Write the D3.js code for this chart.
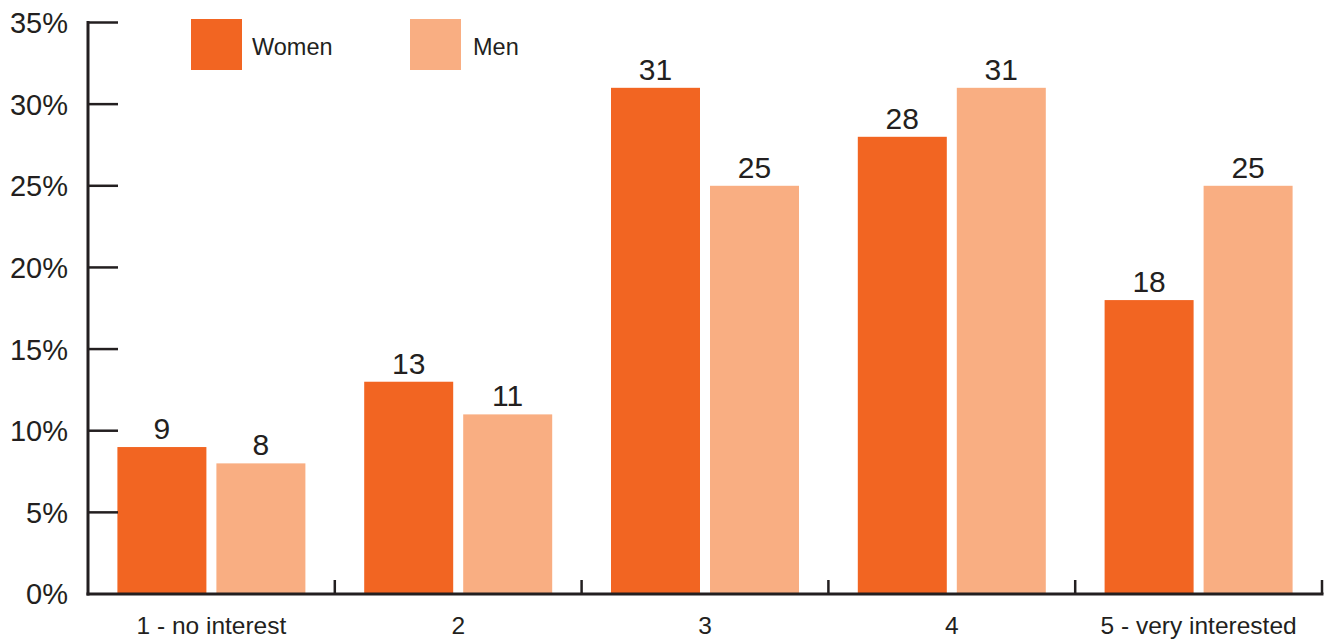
<!DOCTYPE html>
<html>
<head>
<meta charset="utf-8">
<script src="https://cdn.jsdelivr.net/npm/d3@7"></script>
<style>
  html, body { margin: 0; padding: 0; background: #fff; }
  svg { display: block; }
  text { font-family: "Liberation Sans", Arial, sans-serif; fill: #231f20; }
</style>
</head>
<body>
<svg id="chart" width="1330" height="641"></svg>
<script>
// Level of interest, share of respondents (%) by gender
const categories = ["1 - no interest", "2", "3", "4", "5 - very interested"];
const seriesNames = ["Women", "Men"];
const women = [9, 13, 31, 28, 18];
const men = [8, 11, 25, 31, 25];
const yTicks = [0, 5, 10, 15, 20, 25, 30, 35];

const colors = { Women: "#f26522", Men: "#f9ae82" };
const ink = "#231f20";

const svg = d3.select("#chart");
const plotLeft = 88, plotRight = 1322, plotTop = 22.5, plotBottom = 594;

const x = d3.scaleBand().domain(categories).range([plotLeft, plotRight]).paddingInner(0).paddingOuter(0);
const x1 = d3.scaleBand().domain(seriesNames).range([0, x.bandwidth()]).paddingInner(0.101).paddingOuter(0.297);
const y = d3.scaleLinear().domain([0, 35]).range([plotBottom, plotTop]);

const rows = categories.map((c, i) => ({ cat: c, Women: women[i], Men: men[i] }));

// Bars
const groups = svg.append("g").selectAll("g").data(rows).join("g")
  .attr("transform", d => `translate(${x(d.cat)},0)`);

groups.selectAll("rect").data(d => seriesNames.map(s => ({ s, v: d[s] }))).join("rect")
  .attr("x", d => x1(d.s))
  .attr("y", d => y(d.v))
  .attr("width", x1.bandwidth())
  .attr("height", d => y(0) - y(d.v))
  .attr("fill", d => colors[d.s]);

// Value labels
groups.selectAll("text.val").data(d => seriesNames.map(s => ({ s, v: d[s] }))).join("text")
  .attr("class", "val")
  .attr("x", d => x1(d.s) + x1.bandwidth() / 2)
  .attr("y", d => y(d.v) - 8)
  .attr("text-anchor", "middle")
  .attr("font-size", 30)
  .text(d => d.v);

// Y axis: line with inward ticks
const yAxis = svg.append("g");
yAxis.append("line")
  .attr("x1", plotLeft).attr("x2", plotLeft)
  .attr("y1", y(35) - 1.5).attr("y2", y(0) + 1.5)
  .attr("stroke", ink).attr("stroke-width", 3);
yAxis.selectAll("line.tick").data(yTicks.filter(t => t > 0)).join("line")
  .attr("class", "tick")
  .attr("x1", plotLeft).attr("x2", plotLeft + 30)
  .attr("y1", d => y(d)).attr("y2", d => y(d))
  .attr("stroke", ink).attr("stroke-width", 2.5);
yAxis.selectAll("text").data(yTicks).join("text")
  .attr("x", 68)
  .attr("y", d => y(d))
  .attr("dy", "0.36em")
  .attr("text-anchor", "end")
  .attr("font-size", 29)
  .text(d => d + "%");

// X axis: baseline with upward ticks at category boundaries
const xAxis = svg.append("g");
xAxis.append("line")
  .attr("x1", plotLeft - 1.5).attr("x2", plotRight + 1.5)
  .attr("y1", plotBottom).attr("y2", plotBottom)
  .attr("stroke", ink).attr("stroke-width", 3);
xAxis.selectAll("line.tick").data(categories).join("line")
  .attr("class", "tick")
  .attr("x1", d => x(d) + x.bandwidth()).attr("x2", d => x(d) + x.bandwidth())
  .attr("y1", plotBottom).attr("y2", plotBottom - 14)
  .attr("stroke", ink).attr("stroke-width", 2.5);
xAxis.selectAll("text").data(categories).join("text")
  .attr("x", d => x(d) + x.bandwidth() / 2)
  .attr("y", 634)
  .attr("text-anchor", "middle")
  .attr("font-size", 24.5)
  .text(d => d);

// Legend
const legend = svg.append("g");
const legendX = { Women: 191, Men: 410 };
seriesNames.forEach(s => {
  legend.append("rect")
    .attr("x", legendX[s]).attr("y", 19)
    .attr("width", 51).attr("height", 51)
    .attr("fill", colors[s]);
  legend.append("text")
    .attr("x", legendX[s] + (s === "Women" ? 61 : 63))
    .attr("y", 55)
    .attr("font-size", 23.5)
    .text(s);
});
</script>
</body>
</html>
